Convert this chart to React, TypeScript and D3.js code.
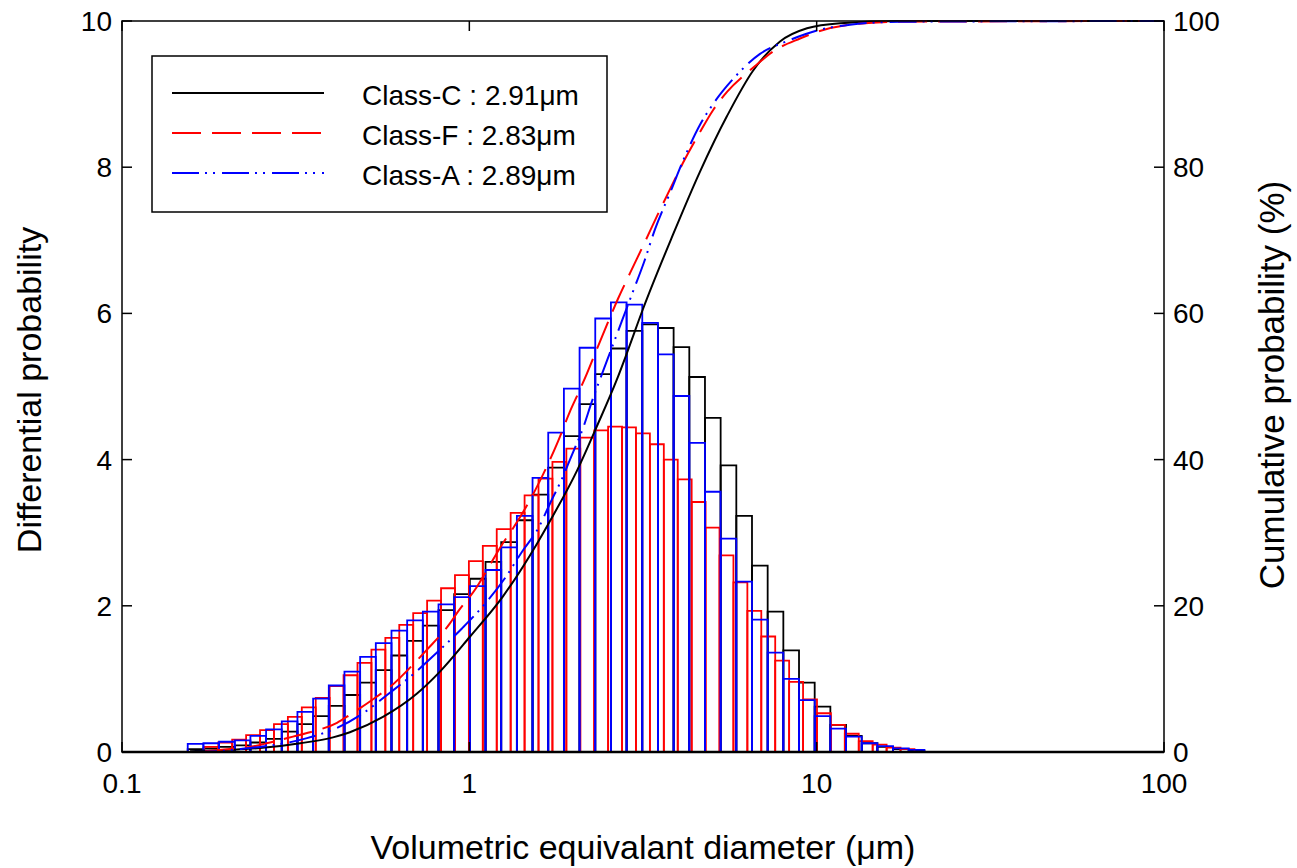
import React from "react";
import * as d3 from "d3";

// ---------- data ----------
// Histogram channels (geometric bins): Class-C and Class-A share one channel set, Class-F another
const binStartCA = 0.1546; // lower edge of first bin (µm)
const binRatioCA = 1.1095;
const binStartF = 0.1726;
const binRatioF = 1.0967;

const classC = [
  0.04, 0.05, 0.07, 0.09, 0.13, 0.18, 0.28, 0.38, 0.49, 0.63, 0.78, 0.95, 1.12, 1.32, 1.52, 1.73,
  1.94, 2.16, 2.37, 2.6, 2.87, 3.17, 3.52, 3.89, 4.32, 4.76, 5.17, 5.52, 5.76, 5.85, 5.8, 5.54,
  5.13, 4.57, 3.92, 3.23, 2.55, 1.92, 1.39, 0.95, 0.62, 0.37, 0.22, 0.12, 0.07, 0.04, 0.02,
];
const classA = [
  0.11, 0.12, 0.14, 0.16, 0.22, 0.31, 0.42, 0.55, 0.73, 0.91, 1.1, 1.3, 1.49, 1.66, 1.8, 1.92,
  2.02, 2.12, 2.27, 2.49, 2.8, 3.23, 3.75, 4.37, 4.97, 5.53, 5.93, 6.15, 6.12, 5.87, 5.44, 4.87,
  4.23, 3.56, 2.92, 2.33, 1.81, 1.36, 1.0, 0.71, 0.49, 0.32, 0.21, 0.12, 0.08, 0.05, 0.03,
];
const classF = [
  0.07, 0.13, 0.17, 0.23, 0.3, 0.38, 0.48, 0.61, 0.74, 0.9, 1.05, 1.22, 1.4, 1.56, 1.74, 1.9,
  2.07, 2.24, 2.42, 2.61, 2.82, 3.05, 3.27, 3.51, 3.74, 3.97, 4.15, 4.3, 4.4, 4.45, 4.44, 4.36,
  4.21, 4.0, 3.73, 3.42, 3.07, 2.69, 2.32, 1.93, 1.58, 1.25, 0.96, 0.72, 0.53, 0.37, 0.25, 0.15,
  0.1, 0.06, 0.04,
];

// Cumulative curves: [diameter µm, cumulative %]
const cumC: [number, number][] = [
  [0.157, 0.1], [0.205, 0.3], [0.258, 0.6], [0.326, 1.2], [0.405, 2.0], [0.453, 2.7],
  [0.564, 4.8], [0.707, 8.0], [0.823, 11.0], [1.005, 15.8], [1.25, 21.3], [1.566, 28.5],
  [1.707, 31.6], [2.042, 38.5], [2.331, 44.6], [2.662, 51.0], [2.844, 54.6], [3.162, 60.6],
  [3.86, 70.8], [4.615, 79.4], [5.519, 87.0], [6.558, 93.2], [7.843, 97.2], [9.38, 99.0],
  [11.675, 99.7], [17.38, 100], [100, 100],
];
const cumF: [number, number][] = [
  [0.1734, 0.1], [0.2046, 0.4], [0.229, 0.6], [0.2668, 1.3], [0.3107, 2.1], [0.3478, 2.7],
  [0.4159, 4.0], [0.4534, 5.1], [0.5422, 7.6], [0.5911, 8.9], [0.693, 12.1], [0.7553, 14.0],
  [0.8793, 17.6], [0.9273, 19.2], [1.0521, 22.6], [1.1243, 24.9], [1.2505, 28.6], [1.3273, 30.4],
  [1.4758, 34.0], [1.5664, 36.3], [1.7073, 40.0], [1.8003, 42.5], [1.9493, 46.6], [2.0553, 49.0],
  [2.1817, 51.8], [2.3468, 55.5], [2.5075, 58.8], [2.6794, 62.0], [2.9013, 65.5], [3.2046, 69.8],
  [3.4692, 73.3], [3.7835, 77.0], [4.1231, 80.6], [4.6145, 84.8], [5.0298, 87.8], [5.5191, 90.3],
  [6.5578, 93.6], [7.5874, 96.0], [8.9554, 97.6], [10.023, 98.5], [12.474, 99.5], [17.377, 99.9],
  [100, 100],
];
const cumA: [number, number][] = [
  [0.1569, 0.0], [0.1877, 0.1], [0.2186, 0.4], [0.2497, 0.7], [0.2947, 1.2], [0.3409, 1.9],
  [0.4159, 3.3], [0.4909, 5.2], [0.5794, 7.8], [0.6839, 10.5], [0.8068, 13.6], [0.9522, 16.9],
  [1.1243, 20.6], [1.2672, 23.8], [1.4182, 27.4], [1.5873, 30.8], [1.7073, 34.0], [1.8487, 37.4],
  [1.9885, 41.0], [2.1246, 44.3], [2.2552, 48.0], [2.3781, 51.0], [2.5579, 55.0], [2.7515, 59.0],
  [2.9596, 63.0], [3.1834, 67.0], [3.4235, 71.5], [3.7835, 76.5], [4.178, 81.5], [4.6145, 85.8],
  [5.1308, 89.2], [5.7051, 91.9], [6.8689, 95.5], [8.2702, 97.3], [10.023, 98.7], [12.474, 99.5],
  [17.377, 99.9], [100, 100],
];

const xTicks = [0.1, 1, 10, 100];
const xTickLabels = ["0.1", "1", "10", "100"];
const yLeftTicks = [0, 2, 4, 6, 8, 10];
const yRightTicks = [0, 20, 40, 60, 80, 100];
const legendLabels = ["Class-C : 2.91\u03bcm", "Class-F : 2.83\u03bcm", "Class-A : 2.89\u03bcm"];
const xTitle = "Volumetric equivalant diameter (\u03bcm)";
const yLeftTitle = "Differential probability";
const yRightTitle = "Cumulative probability (%)";

// ---------- layout ----------
const W = 1297;
const H = 868;
const L = 122, R = 1164, T = 21, B = 752;
const FONT = "'Liberation Sans', Arial, Helvetica, sans-serif";

const BLACK = "#000000";
const RED = "#ff0000";
const BLUE = "#0000ff";
const DASH_F = "29 11";
const DASH_A = "27 6 2 6 2 7";

export default function App() {
  const x = d3.scaleLog().domain([0.1, 100]).range([L, R]);
  const yL = d3.scaleLinear().domain([0, 10]).range([B, T]);
  const yR = d3.scaleLinear().domain([0, 100]).range([B, T]);

  const bars = (vals: number[], start: number, ratio: number, color: string, key: string) =>
    vals.map((v, i) => {
      const x0 = x(start * Math.pow(ratio, i));
      const x1 = x(start * Math.pow(ratio, i + 1));
      const y0 = yL(0);
      const y1 = yL(v);
      return (
        <path
          key={key + i}
          d={`M${x0},${y0}V${y1}H${x1}V${y0}`}
          fill="none"
          stroke={color}
          strokeWidth={1.8}
        />
      );
    });

  const line = d3
    .line<[number, number]>()
    .x((d) => x(d[0]))
    .y((d) => yR(d[1]))
    .curve(d3.curveMonotoneX);

  const legendY = [93, 133, 173];
  const legendStyles = [
    { c: BLACK, dash: undefined },
    { c: RED, dash: DASH_F },
    { c: BLUE, dash: DASH_A },
  ];

  return (
    <svg
      width={W}
      height={H}
      style={{ position: "absolute", left: 0, top: 0, background: "#fff" }}
      fontFamily={FONT}
    >
      <rect x={0} y={0} width={W} height={H} fill="#fff" />

      {/* histograms */}
      <g>{bars(classC, binStartCA, binRatioCA, BLACK, "c")}</g>
      <g>{bars(classF, binStartF, binRatioF, RED, "f")}</g>
      <g>{bars(classA, binStartCA, binRatioCA, BLUE, "a")}</g>

      {/* cumulative curves */}
      <path d={line(cumC) || ""} fill="none" stroke={BLACK} strokeWidth={2} />
      <path d={line(cumF) || ""} fill="none" stroke={RED} strokeWidth={2} strokeDasharray={DASH_F} />
      <path d={line(cumA) || ""} fill="none" stroke={BLUE} strokeWidth={2} strokeDasharray={DASH_A} />

      {/* frame */}
      <rect x={L} y={T} width={R - L} height={B - T} fill="none" stroke="#000" strokeWidth={1.5} />
      <line x1={L} x2={R} y1={B} y2={B} stroke="#000" strokeWidth={2.5} />

      {/* ticks */}
      {yLeftTicks.map((t) => (
        <g key={"yl" + t}>
          <line x1={L} x2={L + 10} y1={yL(t)} y2={yL(t)} stroke="#000" strokeWidth={1.5} />
          <text x={112} y={yL(t)} dy="0.36em" textAnchor="end" fontSize={28}>
            {t}
          </text>
        </g>
      ))}
      {yRightTicks.map((t) => (
        <g key={"yr" + t}>
          <line x1={R - 10} x2={R} y1={yR(t)} y2={yR(t)} stroke="#000" strokeWidth={1.5} />
          <text x={1173} y={yR(t)} dy="0.36em" textAnchor="start" fontSize={28}>
            {t}
          </text>
        </g>
      ))}
      {xTicks.map((t, i) => (
        <g key={"x" + t}>
          <line x1={x(t)} x2={x(t)} y1={B} y2={B - 10} stroke="#000" strokeWidth={1.5} />
          <line x1={x(t)} x2={x(t)} y1={T} y2={T + 10} stroke="#000" strokeWidth={1.5} />
          <text x={x(t)} y={793} textAnchor="middle" fontSize={28}>
            {xTickLabels[i]}
          </text>
        </g>
      ))}

      {/* axis titles */}
      <text x={643} y={859} textAnchor="middle" fontSize={34}>
        {xTitle}
      </text>
      <text transform="translate(41,390) rotate(-90)" textAnchor="middle" fontSize={34}>
        {yLeftTitle}
      </text>
      <text transform="translate(1284,385) rotate(-90)" textAnchor="middle" fontSize={35}>
        {yRightTitle}
      </text>

      {/* legend */}
      <rect x={152} y={56} width={455} height={156} fill="#fff" stroke="#000" strokeWidth={1.5} />
      {legendLabels.map((lab, i) => (
        <g key={lab}>
          <line
            x1={172}
            x2={324}
            y1={legendY[i]}
            y2={legendY[i]}
            stroke={legendStyles[i].c}
            strokeWidth={2}
            strokeDasharray={legendStyles[i].dash}
          />
          <text x={362} y={legendY[i] + 12} fontSize={28}>
            {lab}
          </text>
        </g>
      ))}
    </svg>
  );
}
